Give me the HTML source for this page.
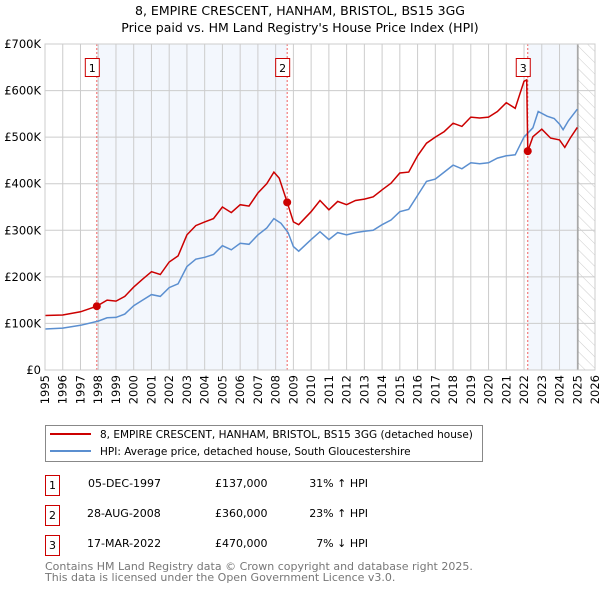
<!DOCTYPE html>
<html><head><meta charset="utf-8"><style>
body{margin:0;background:#fff;font-family:"DejaVu Sans","Liberation Sans",sans-serif;}
svg text{font-family:"DejaVu Sans","Liberation Sans",sans-serif;}
</style></head><body>
<svg id="chart" width="600" height="590" xmlns="http://www.w3.org/2000/svg">
<defs><pattern id="hatch" width="8" height="8" patternUnits="userSpaceOnUse" patternTransform="rotate(-45)"><line x1="0" y1="0" x2="0" y2="8" stroke="#ccc" stroke-width="1"/></pattern></defs>
<text x="300" y="15" text-anchor="middle" font-size="12.5">8, EMPIRE CRESCENT, HANHAM, BRISTOL, BS15 3GG</text>
<text x="300" y="32" text-anchor="middle" font-size="12.5">Price paid vs. HM Land Registry's House Price Index (HPI)</text>
<g id="plot"></g>
<rect x="45.5" y="425.5" width="437" height="36" fill="#fff" stroke="#888"/>
<line x1="50" y1="434" x2="91" y2="434" stroke="#cc0000" stroke-width="2"/>
<text x="100" y="438" font-size="10.5">8, EMPIRE CRESCENT, HANHAM, BRISTOL, BS15 3GG (detached house)</text>
<line x1="50" y1="451" x2="91" y2="451" stroke="#5b8fd0" stroke-width="2"/>
<text x="100" y="455" font-size="10.5">HPI: Average price, detached house, South Gloucestershire</text>
<g font-size="11">
<rect x="45.5" y="475.5" width="14" height="20" fill="#fff" stroke="#cc0000"/><text x="52.5" y="489" text-anchor="middle">1</text>
<text x="88" y="487">05-DEC-1997</text><text x="215" y="487">£137,000</text><text x="368" y="487" text-anchor="end">31% ↑ HPI</text>
<rect x="45.5" y="505.5" width="14" height="20" fill="#fff" stroke="#cc0000"/><text x="52.5" y="519" text-anchor="middle">2</text>
<text x="87" y="517">28-AUG-2008</text><text x="215" y="517">£360,000</text><text x="368" y="517" text-anchor="end">23% ↑ HPI</text>
<rect x="45.5" y="535.5" width="14" height="20" fill="#fff" stroke="#cc0000"/><text x="52.5" y="549" text-anchor="middle">3</text>
<text x="87" y="547">17-MAR-2022</text><text x="215" y="547">£470,000</text><text x="368" y="547" text-anchor="end">7% ↓ HPI</text>
</g>
<text x="45" y="570" font-size="11" fill="#777">Contains HM Land Registry data © Crown copyright and database right 2025.</text>
<text x="45" y="581" font-size="11" fill="#777">This data is licensed under the Open Government Licence v3.0.</text>
</svg>
<script>
const yTicks=[0,100,200,300,400,500,600,700];
const yTickLabels=["£0","£100K","£200K","£300K","£400K","£500K","£600K","£700K"];
const xYears=[1995,1996,1997,1998,1999,2000,2001,2002,2003,2004,2005,2006,2007,2008,2009,2010,2011,2012,2013,2014,2015,2016,2017,2018,2019,2020,2021,2022,2023,2024,2025,2026];
const saleDates=[1997.92,2008.65,2022.21];
const salePrices=[137,360,470];
const saleLabels=["1","2","3"];
const redT=[1995,1996,1997,1997.92,1998.5,1999,1999.5,2000,2000.5,2001,2001.5,2002,2002.5,2003,2003.5,2004,2004.5,2005,2005.5,2006,2006.5,2007,2007.5,2007.9,2008.2,2008.65,2009,2009.3,2010,2010.5,2011,2011.5,2012,2012.5,2013,2013.5,2014,2014.5,2015,2015.5,2016,2016.5,2017,2017.5,2018,2018.5,2019,2019.5,2020,2020.5,2021,2021.5,2022,2022.15,2022.21,2022.5,2023,2023.5,2024,2024.3,2024.6,2025];
const redV=[117,118,125,137,150,148,158,178,195,211,205,232,245,290,310,318,325,350,338,355,352,380,400,425,412,360,318,312,340,364,344,362,355,364,367,372,387,401,423,425,460,487,500,512,530,523,543,541,543,555,574,562,620,623,470,501,517,498,494,478,498,521];
const blueT=[1995,1996,1997,1998,1998.5,1999,1999.5,2000,2000.5,2001,2001.5,2002,2002.5,2003,2003.5,2004,2004.5,2005,2005.5,2006,2006.5,2007,2007.5,2007.9,2008.3,2008.7,2009,2009.3,2010,2010.5,2011,2011.5,2012,2012.5,2013,2013.5,2014,2014.5,2015,2015.5,2016,2016.5,2017,2017.5,2018,2018.5,2019,2019.5,2020,2020.5,2021,2021.5,2022,2022.5,2022.8,2023.3,2023.7,2024,2024.2,2024.5,2025];
const blueV=[88,90,96,105,112,113,120,138,150,162,158,177,185,222,238,242,248,267,258,272,270,290,305,325,315,295,265,255,280,297,280,295,290,295,298,300,312,322,340,345,375,405,410,425,440,432,445,443,445,455,460,462,500,520,555,545,540,528,516,535,560];
const L=45,R=595,T=44,B=370;
const X=y=>L+(y-1995)/(2026-1995)*(R-L);
const Y=v=>B-v/700*(B-T);
const NS="http://www.w3.org/2000/svg";
const g=document.getElementById('plot');
function mk(tag,attrs,parent){const e=document.createElementNS(NS,tag);for(const k in attrs)e.setAttribute(k,attrs[k]);(parent||g).appendChild(e);return e;}
let e;
e=mk('rect',{x:X(saleDates[0]),y:T,width:X(saleDates[1])-X(saleDates[0]),height:B-T,fill:'#eef3fc',opacity:0.7});


e=mk('rect',{x:X(saleDates[2]),y:T,width:X(2025.04)-X(saleDates[2]),height:B-T,fill:'#eef3fc',opacity:0.7});


e=mk('rect',{x:X(2025.04),y:T,width:R-X(2025.04),height:B-T,fill:'url(#hatch)'});


yTicks.forEach((v,i)=>{
 e=mk('line',{x1:L,x2:R,y1:Y(v),y2:Y(v),stroke:'#ccc'});
 
 
 e=mk('text',{x:L-4,y:Y(v)+4,'text-anchor':'end','font-size':11.5});
 e.textContent=yTickLabels[i];
 
 
});
xYears.forEach(yr=>{
 e=mk('line',{x1:X(yr),x2:X(yr),y1:T,y2:B,stroke:'#ccc'});
 
 
 e=mk('text',{x:0,y:0,'text-anchor':'end','font-size':11.5,transform:`translate(${X(yr)+4},${B+5}) rotate(-90)`});
 e.textContent=yr;
 
 
});
e=mk('line',{x1:X(2025.04),x2:X(2025.04),y1:T,y2:B,stroke:'#888'});


saleDates.forEach((d,i)=>{
 e=mk('line',{x1:X(d),x2:X(d),y1:T,y2:B,stroke:'#f06060','stroke-dasharray':'2,2'});
 
 
});
const pts=(t,v)=>t.map((x,i)=>X(x).toFixed(1)+','+Y(v[i]).toFixed(1)).join(' ');
e=mk('polyline',{points:pts(blueT,blueV),fill:'none',stroke:'#5b8fd0','stroke-width':1.5});


e=mk('polyline',{points:pts(redT,redV),fill:'none',stroke:'#cc0000','stroke-width':1.5});


saleDates.forEach((d,i)=>{
 e=mk('circle',{cx:X(d),cy:Y(salePrices[i]),r:4,fill:'#cc0000'});
 
 
 e=mk('rect',{x:X(d)-11.5,y:58.5,width:14,height:18,fill:'#fff',stroke:'#cc0000'});
 
 
 e=mk('text',{x:X(d)-4.5,y:72,'text-anchor':'middle','font-size':11});
 e.textContent=saleLabels[i];
 
 
});
e=mk('rect',{x:L,y:T,width:R-L,height:B-T,fill:'none',stroke:'#ccc'});


</script>
</body></html>
